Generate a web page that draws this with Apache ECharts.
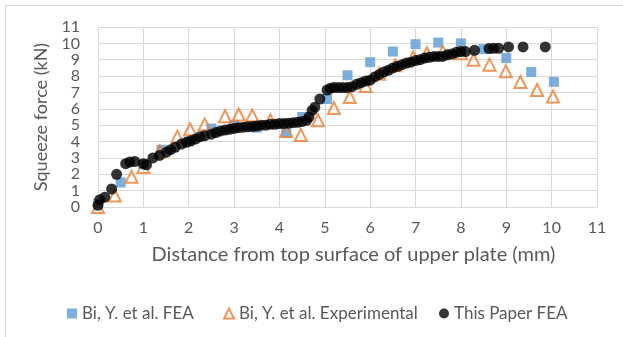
<!DOCTYPE html>
<html>
<head>
<meta charset="utf-8">
<script src="https://cdn.jsdelivr.net/npm/echarts@6/dist/echarts.min.js"></script>
<style>
  html, body { margin: 0; padding: 0; background: #fff; }
  #chart { width: 623px; height: 337px; }
</style>
</head>
<body>
<div id="chart"></div>
<script>
// Bi, Y. et al. FEA
const biFeaX = [0, 0.5, 1.0, 1.4, 2.0, 2.5, 3.0, 3.5, 4.15, 4.5, 5.05, 5.5, 6.0, 6.5, 7.0, 7.5, 8.0, 8.5, 9.0, 9.55, 10.05];
const biFeaY = [0.2, 1.5, 2.6, 3.5, 4.0, 4.8, 5.0, 4.85, 4.55, 5.5, 6.6, 8.05, 8.85, 9.5, 9.95, 10.05, 10.0, 9.65, 9.1, 8.25, 7.65];

// Bi, Y. et al. Experimental
const biExpX = [0, 0.37, 0.74, 1.0, 1.36, 1.75, 2.03, 2.35, 2.8, 3.1, 3.4, 3.8, 4.15, 4.47, 4.85, 5.2, 5.55, 5.9, 6.2, 6.55, 6.95, 7.25, 7.6, 8.0, 8.28, 8.63, 8.99, 9.31, 9.68, 10.03];
const biExpY = [0, 0.7, 1.85, 2.45, 3.4, 4.3, 4.75, 5.05, 5.55, 5.65, 5.6, 5.3, 4.65, 4.4, 5.3, 6.05, 6.72, 7.4, 8.15, 8.66, 9.15, 9.4, 9.48, 9.4, 9.0, 8.7, 8.3, 7.64, 7.15, 6.75];

// This Paper FEA
const paperX = [0, 0.04, 0.15, 0.3, 0.41, 0.61, 0.7, 0.81, 1.0, 1.07, 1.21, 1.36, 1.51, 1.6, 1.7, 1.84, 1.95, 2.05, 2.15, 2.25, 2.35, 2.5, 2.6, 2.7, 2.8, 2.9, 3.0, 3.1, 3.2, 3.3, 3.4, 3.5, 3.6, 3.7, 3.8, 3.9, 4.0, 4.1, 4.2, 4.3, 4.4, 4.5, 4.6, 4.65, 4.72, 4.78, 4.89, 5.05, 5.12, 5.2, 5.3, 5.4, 5.5, 5.6, 5.7, 5.8, 5.9, 6.0, 6.1, 6.2, 6.3, 6.4, 6.5, 6.6, 6.7, 6.8, 6.9, 7.0, 7.1, 7.2, 7.3, 7.4, 7.5, 7.6, 7.7, 7.8, 7.9, 8.0, 8.1, 8.3, 8.62, 8.72, 8.83, 9.05, 9.37, 9.86];
const paperY = [0.1, 0.45, 0.6, 1.1, 2.0, 2.65, 2.75, 2.78, 2.65, 2.58, 3.0, 3.15, 3.35, 3.5, 3.65, 3.85, 3.95, 4.05, 4.15, 4.3, 4.35, 4.45, 4.55, 4.65, 4.7, 4.75, 4.8, 4.85, 4.88, 4.9, 4.92, 4.95, 5.0, 5.0, 5.05, 5.05, 5.1, 5.1, 5.12, 5.15, 5.18, 5.22, 5.3, 5.5, 5.9, 6.1, 6.6, 7.15, 7.25, 7.3, 7.3, 7.3, 7.3, 7.35, 7.5, 7.6, 7.7, 7.75, 7.95, 8.1, 8.25, 8.35, 8.5, 8.6, 8.7, 8.8, 8.85, 8.95, 9.0, 9.1, 9.15, 9.2, 9.2, 9.2, 9.3, 9.35, 9.45, 9.5, 9.5, 9.58, 9.68, 9.7, 9.7, 9.78, 9.78, 9.78];

const axisTicks = [0, 1, 2, 3, 4, 5, 6, 7, 8, 9, 10, 11];

const zip = (xs, ys) => xs.map((x, i) => [x, ys[i]]);

const font = "Lato, 'Liberation Sans', sans-serif";
const txt = '#595959';
const gridCol = '#d9d9d9';

const chart = echarts.init(document.getElementById('chart'));

chart.setOption({
  animation: false,
  textStyle: { fontFamily: font },
  graphic: [{
    type: 'rect',
    shape: { x: 5.5, y: 5.5, width: 700, height: 400 },
    style: { fill: 'none', stroke: gridCol, lineWidth: 1 },
    silent: true
  }],
  grid: { left: 98, right: 26, top: 27, bottom: 130, outerBoundsMode: 'none' },
  xAxis: {
    type: 'value',
    min: axisTicks[0],
    max: axisTicks[axisTicks.length - 1],
    interval: 1,
    name: 'Distance from top surface of upper plate (mm)',
    nameLocation: 'middle',
    nameGap: 38,
    nameTextStyle: { color: txt, fontSize: 20, fontFamily: font, padding: [0, 0, 0, 12] },
    axisLine: { lineStyle: { color: gridCol } },
    axisTick: { show: false },
    axisLabel: { color: txt, fontSize: 16, margin: 13, fontFamily: font },
    splitLine: { lineStyle: { color: gridCol } }
  },
  yAxis: {
    type: 'value',
    min: axisTicks[0],
    max: axisTicks[axisTicks.length - 1],
    interval: 1,
    name: 'Squeeze force (kN)',
    nameLocation: 'middle',
    nameGap: 43,
    nameTextStyle: { color: txt, fontSize: 18, fontFamily: font },
    axisLine: { show: false },
    axisTick: { show: false },
    axisLabel: { color: txt, fontSize: 16, margin: 18, fontFamily: font },
    splitLine: { lineStyle: { color: gridCol } }
  },
  legend: [
    { data: ['Bi, Y. et al. FEA'], left: 67 },
    { data: ['Bi, Y. et al. Experimental'], left: 223 },
    { data: ['This Paper FEA'], left: 439 }
  ].map(l => Object.assign(l, {
    top: 305, padding: 0,
    itemWidth: 10, itemHeight: 10, itemGap: 0,
    textStyle: { color: txt, fontSize: 17, fontFamily: font }
  })),
  series: [
    {
      name: 'Bi, Y. et al. FEA',
      type: 'scatter',
      symbol: 'rect',
      symbolSize: 10,
      itemStyle: { color: '#5b9bd5' },
      data: zip(biFeaX, biFeaY)
    },
    {
      name: 'Bi, Y. et al. Experimental',
      type: 'scatter',
      symbol: 'triangle',
      symbolSize: 12,
      itemStyle: { color: 'rgba(255,255,255,0)', borderColor: '#ed7d31', borderWidth: 2 },
      data: zip(biExpX, biExpY)
    },
    {
      name: 'This Paper FEA',
      type: 'scatter',
      symbol: 'circle',
      symbolSize: 11,
      itemStyle: { color: '#000000' },
      data: zip(paperX, paperY)
    }
  ]
});
</script>
</body>
</html>
